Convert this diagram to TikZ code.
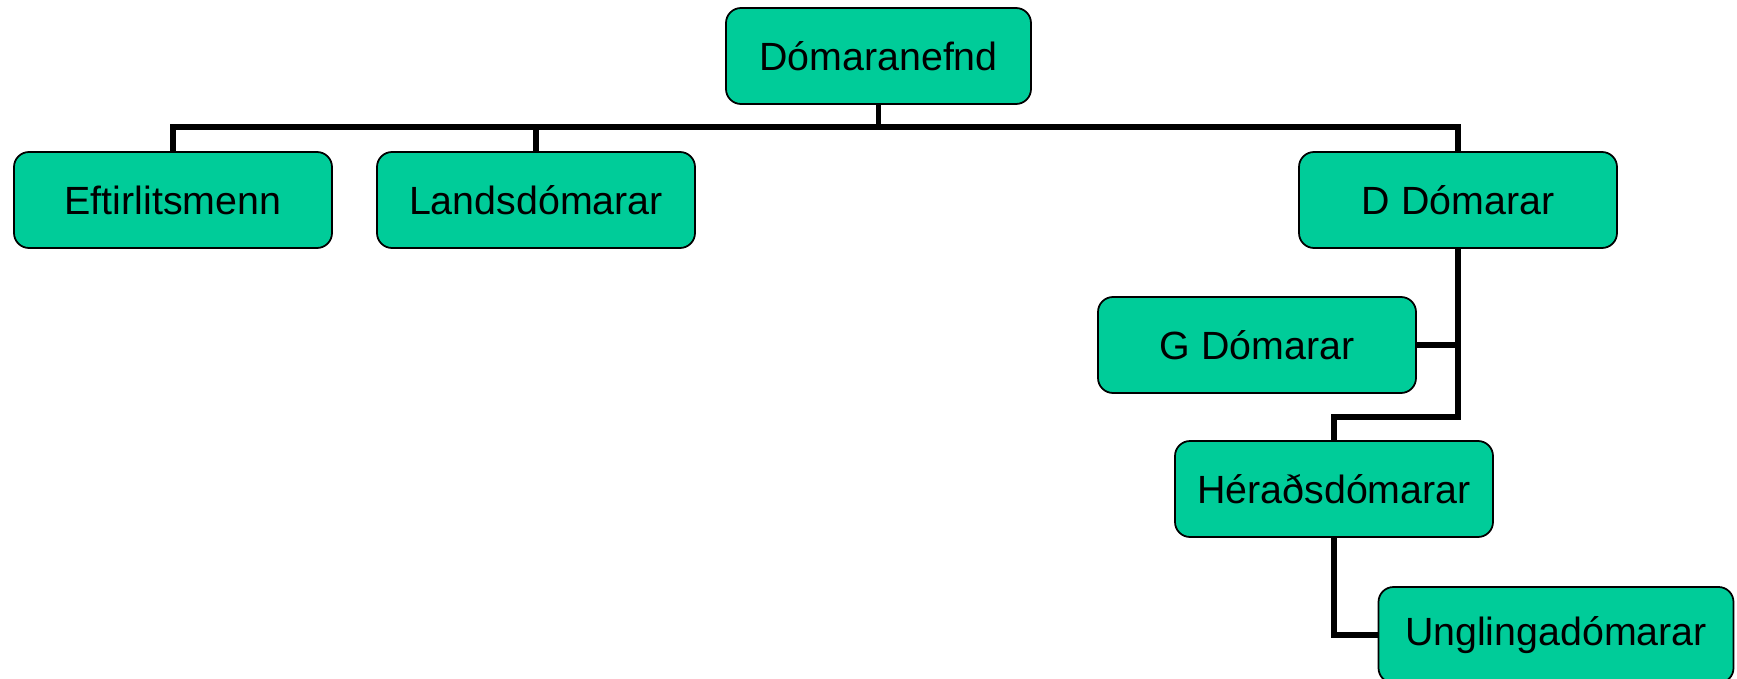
\documentclass[tikz,border=0pt]{standalone}
\usepackage{fontspec}
\setmainfont{Liberation Sans}
\usetikzlibrary{positioning}

\definecolor{boxgreen}{RGB}{0,204,153}

\tikzset{
    unit/.style={draw=black, fill=boxgreen, line width=1pt, rounded corners=0.3cm,
        minimum width=6.36cm, minimum height=1.92cm, inner sep=0pt,
        font=\fontsize{22.4}{27}\selectfont},
    conn/.style={draw=black, line width=3pt}
}

\begin{document}
\begin{tikzpicture}
    \useasboundingbox (0, 0) rectangle (34.74, -13.56);

    \node[unit, minimum width=6.1cm] (nefnd) at (17.57, -1.12) {Dómaranefnd};
    \node[unit] (eftirlit) at (3.46, -4.0) {Eftirlitsmenn};
    \node[unit] (lands) at (10.72, -4.0) {Landsdómarar};
    \node[unit] (ddom) at (29.16, -4.0) {D Dómarar};
    \node[unit] (gdom) at (25.14, -6.9) {G Dómarar};
    \node[unit] (herad) at (26.68, -9.78) {Héraðsdómarar};
    \node[unit, minimum width=7.1cm] (ungl) at (31.12, -12.7) {Unglingadómarar};

    \coordinate (bus) at (0, -2.54);
    \coordinate (drop) at (0, -8.34);

    \draw[conn] (nefnd.south) -- (nefnd.south |- bus);
    \draw[conn] (eftirlit.north) -- (eftirlit.north |- bus) -| (ddom.north);
    \draw[conn] (lands.north) -- (lands.north |- bus);
    \draw[conn] (ddom.south) -- (ddom.south |- drop) -| (herad.north);
    \draw[conn] (gdom.east) -- (gdom.east -| ddom.south);
    \draw[conn] (herad.south) |- (ungl.west);
\end{tikzpicture}
\end{document}
